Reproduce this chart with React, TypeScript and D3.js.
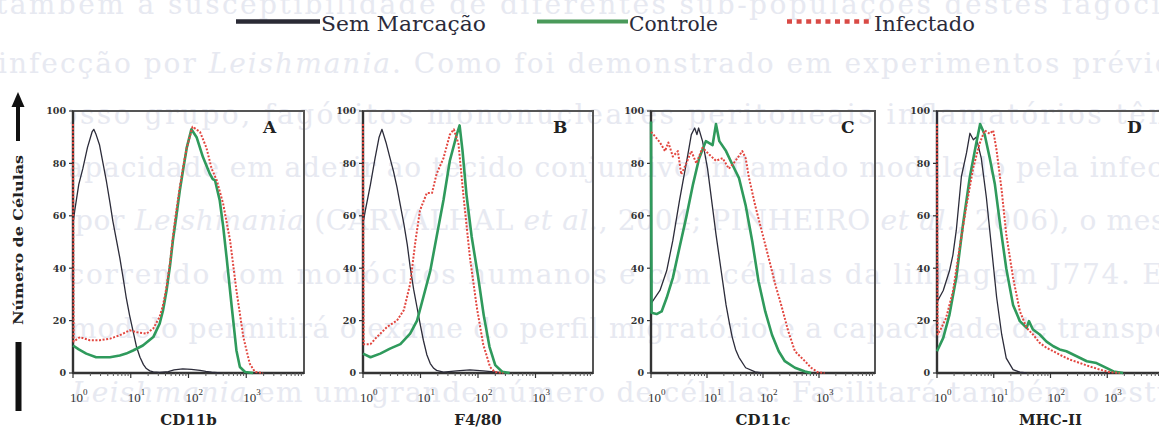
import React from "react";
import * as d3 from "d3";

// [log10 fluorescence intensity, number of cells]
type Pt = [number, number];

const markers = ["CD11b", "F4/80", "CD11c", "MHC-II"];
const panelLetters = ["A", "B", "C", "D"];
const seriesNames = ["Sem Marcação", "Controle", "Infectado"];
const yTicks = [0, 20, 40, 60, 80, 100];
const xDecades = [0, 1, 2, 3];

const semMarcacao: Pt[][] = [
  [[0,57],[0.03,62],[0.10,72],[0.17,78],[0.25,86],[0.33,92],[0.36,93],[0.40,91],[0.46,87],[0.52,80],[0.58,73],[0.64,65],[0.69,58],[0.75,51],[0.81,44],[0.87,36],[0.92,29],[0.98,22],[1.04,16],[1.10,10],[1.16,6],[1.22,3.2],[1.27,1.7],[1.33,0.8],[1.39,0.4],[1.50,0.2],[1.65,0.5],[1.75,1.2],[1.90,1.6],[2.05,1.4],[2.20,1.0],[2.30,0.6],[2.40,0.3],[2.55,0]],
  [[0,57],[0.04,62],[0.13,72],[0.21,82],[0.28,90],[0.33,93],[0.40,88],[0.47,82],[0.53,77],[0.59,71],[0.65,64],[0.71,57],[0.77,49],[0.82,40.5],[0.88,32],[0.94,25],[1.00,18],[1.05,12.5],[1.11,7],[1.17,3.6],[1.23,1.8],[1.28,1],[1.40,0.3],[1.63,0.8],[1.86,1.2],[2.09,0.8],[2.32,0.3],[2.44,0]],
  [[0,26.5],[0.16,31.5],[0.28,39],[0.39,50.6],[0.51,66],[0.57,73],[0.63,80],[0.68,86],[0.72,91],[0.78,93.5],[0.82,91],[0.85,93.5],[0.92,88.5],[1.01,78],[1.10,63],[1.16,53],[1.22,44],[1.28,35],[1.34,26],[1.40,19],[1.45,13.7],[1.51,9],[1.57,6],[1.69,2],[1.86,0.4],[1.98,0]],
  [[0,100],[0.01,27.5],[0.11,31.5],[0.22,39],[0.28,45],[0.34,54.5],[0.43,75],[0.52,84],[0.58,91.5],[0.64,89],[0.69,90],[0.78,82],[0.87,67],[0.96,48],[1.05,29],[1.14,14.7],[1.22,5.7],[1.34,1.3],[1.46,0.3],[1.58,0]],
];

const controle: Pt[][] = [
  [[0,10.5],[0.10,9],[0.23,7.4],[0.40,6],[0.64,6],[0.81,6.7],[0.92,7.4],[1.04,8.6],[1.21,10.5],[1.39,13.7],[1.50,18.8],[1.56,24],[1.62,31.5],[1.68,41],[1.73,50.6],[1.79,60],[1.85,69.7],[1.91,78],[1.97,86],[2.05,93],[2.14,90],[2.25,82.4],[2.37,76],[2.42,74],[2.46,73.5],[2.54,66],[2.60,56],[2.66,44],[2.75,25],[2.83,8.6],[2.89,2.3],[2.98,0.4],[3.12,0]],
  [[0,7.4],[0.13,6],[0.30,7.4],[0.47,9.3],[0.65,11],[0.82,15],[0.94,20],[1.05,29],[1.17,39],[1.28,52],[1.40,66],[1.51,81],[1.63,91],[1.68,94.5],[1.73,85],[1.80,68],[1.89,52],[2.00,37],[2.10,22],[2.20,10],[2.30,3],[2.42,0.5],[2.55,0]],
  [[0,96],[0.01,23],[0.10,22.5],[0.19,23.5],[0.28,28.7],[0.39,36.3],[0.51,48],[0.63,59.5],[0.75,72],[0.86,82],[0.98,88.5],[1.10,87],[1.16,95],[1.22,88.5],[1.34,84.7],[1.45,79.7],[1.57,74.5],[1.69,64],[1.81,50],[1.92,35],[2.04,23.5],[2.16,14.6],[2.28,8.3],[2.39,4.5],[2.57,2],[2.75,0.6],[2.86,0]],
  [[0,8.3],[0.11,13.4],[0.22,22.3],[0.34,36.4],[0.46,57],[0.58,75],[0.69,87.5],[0.76,95],[0.84,91],[0.93,82],[1.02,72],[1.11,57],[1.22,40],[1.34,26],[1.46,19.8],[1.58,17.2],[1.62,19.8],[1.69,16.6],[1.81,14.7],[1.93,12],[2.05,10.2],[2.16,9],[2.28,8.3],[2.46,6.4],[2.64,4.5],[2.81,3.8],[2.93,2.5],[3.11,0.6],[3.28,0]],
];

const infectado: Pt[][] = [
  [[0,95],[0.01,12],[0.12,13.7],[0.29,12.5],[0.46,12.5],[0.64,13.1],[0.81,14.4],[0.98,16.3],[1.10,15.6],[1.27,15],[1.39,17],[1.50,21.4],[1.56,26],[1.62,32.8],[1.68,42],[1.73,52],[1.79,62],[1.85,71],[1.91,79],[1.97,86],[2.07,94],[2.20,92],[2.31,86],[2.40,78],[2.49,73.5],[2.60,64.6],[2.72,50.6],[2.83,31.5],[2.95,13.7],[3.06,3.6],[3.15,0.4],[3.29,0]],
  [[0,95],[0.01,11],[0.13,11],[0.24,13.7],[0.42,17.6],[0.59,20],[0.71,24],[0.82,34],[0.91,50],[0.99,62],[1.11,68.7],[1.20,68.7],[1.28,76],[1.40,82],[1.51,91],[1.58,93],[1.66,87.5],[1.75,67],[1.86,44],[1.98,25],[2.09,11],[2.21,2.3],[2.29,0.4],[2.44,0]],
  [[0,92],[0.07,90.4],[0.16,88],[0.25,84.7],[0.31,88],[0.39,82.6],[0.48,84.7],[0.54,75.8],[0.63,80],[0.72,84.7],[0.81,80],[0.92,86],[1.04,83.4],[1.16,81],[1.28,82],[1.39,78],[1.51,81],[1.63,84.7],[1.69,82],[1.75,74.5],[1.86,64],[1.98,54],[2.10,44],[2.22,33.8],[2.34,24.8],[2.45,16],[2.57,8.3],[2.75,4.5],[2.86,2],[2.98,0.3],[3.10,0]],
  [[0,95],[0.01,14.7],[0.05,16],[0.16,21],[0.28,31],[0.40,48],[0.52,64],[0.64,78.5],[0.75,87.5],[0.84,92.6],[0.93,91.3],[0.99,92.6],[1.05,85],[1.14,69.6],[1.22,53],[1.34,36.4],[1.46,23.6],[1.58,17.2],[1.69,14.7],[1.81,11.5],[1.93,9.6],[2.05,8.3],[2.16,7],[2.34,5.1],[2.52,3.8],[2.69,2.5],[2.87,1.3],[3.05,0.3],[3.22,0]],
];

// Page text printed behind the figure: [text, italic] runs per line
const pageLines: [string, boolean][][] = [
  [["também a susceptibilidade de diferentes sub-populações destes fagócitos", false]],
  [["infecção por ", false], ["Leishmania", true], [". Como foi demonstrado em experimentos prévios", false]],
  [["nosso grupo, fagócitos mononucleares peritoneais inflamatórios têm", false]],
  [["capacidade em aderir ao tecido conjuntivo inflamado modulado pela infecção", false]],
  [["por ", false], ["Leishmania", true], [" (CARVALHAL ", false], ["et al.", true], [", 2004; PINHEIRO ", false], ["et al.", true], [", 2006), o mesmo", false]],
  [["ocorrendo com monócitos humanos e com células da linhagem J774. Este", false]],
  [["modelo permitirá o exame do perfil migratório e a capacidade de transporte", false]],
  [["Leishmania", true], [" em um grande número de células. Facilitará também o estudo", false]],
];

// layout
const W = 1159;
const H = 427;
const panelLeft = [73, 363, 651, 937];
const panelWidth = [231, 230, 224, 227];
const plotTop = 111;
const plotBottom = 373;
const serif = "'DejaVu Serif', serif";
const textSerif = "'Liberation Serif', serif";

// page text line placement: baseline, start and justified length
const pageLineY = [14, 73, 124, 177, 230, 284, 338, 402];
const pageLineX = [-4, -2, 40, 50, 75, 50, 70, 72];
const pageLineLen = [1214, 1190, 1135, 1165, 1135, 1160, 1145, 1140];

const colors = { sem: "#2c2c3a", ctrl: "#2f9a5c", inf: "#e2463f" };

const legend = [
  { name: seriesNames[0], x1: 236, x2: 320, len: 165, color: "#2a2a35", dash: "", width: 4.5 },
  { name: seriesNames[1], x1: 537, x2: 628, len: 89, color: "#4a9a5a", dash: "", width: 4 },
  { name: seriesNames[2], x1: 787, x2: 873, len: 101, color: "#d94a45", dash: "5,4.6", width: 4.5 },
];

function Panel({ i }: { i: number }) {
  const left = panelLeft[i];
  const right = left + panelWidth[i];
  const x = d3.scaleLog().domain([1, 1e4]).range([left, right]);
  const y = d3.scaleLinear().domain([0, 100]).range([plotBottom, plotTop]);
  const line = d3
    .line<Pt>()
    .x((p) => x(Math.pow(10, p[0])))
    .y((p) => y(p[1]));

  const minor: number[] = [];
  for (let d = 0; d < 4; d++) for (let k = 2; k <= 9; k++) minor.push(k * Math.pow(10, d));

  return (
    <g>
      {/* frame */}
      <rect x={left} y={plotTop} width={right - left} height={plotBottom - plotTop} fill="none" stroke="#555" strokeWidth={2} />
      <line x1={left} x2={left} y1={plotTop} y2={plotBottom} stroke="#333" strokeWidth={2.4} />
      <line x1={left} x2={right} y1={plotBottom} y2={plotBottom} stroke="#333" strokeWidth={2.4} />

      {/* y axis */}
      {yTicks.map((t) => (
        <g key={t}>
          <line x1={left - 4} x2={left} y1={y(t)} y2={y(t)} stroke="#333" strokeWidth={1.2} />
          <text x={left - 7} y={y(t)} dy="0.35em" textAnchor="end" fontFamily={serif} fontWeight="bold" fontSize={9.5} fill="#333">
            {t}
          </text>
        </g>
      ))}

      {/* x axis */}
      {minor.map((m) => (
        <line key={m} x1={x(m)} x2={x(m)} y1={plotBottom} y2={plotBottom + 3} stroke="#555" strokeWidth={1} />
      ))}
      {xDecades.map((d) => (
        <g key={d}>
          <line x1={x(Math.pow(10, d))} x2={x(Math.pow(10, d))} y1={plotBottom} y2={plotBottom + 5} stroke="#333" strokeWidth={1.2} />
          <text x={x(Math.pow(10, d)) - 3} y={402} fontFamily={textSerif} fontSize={13} fill="#333">
            10
            <tspan dy={-7} fontSize={9}>{d}</tspan>
          </text>
        </g>
      ))}

      {/* histograms */}
      <path d={line(semMarcacao[i]) || ""} fill="none" stroke={colors.sem} strokeWidth={1.3} strokeLinejoin="round" />
      <path d={line(controle[i]) || ""} fill="none" stroke={colors.ctrl} strokeWidth={2.6} strokeLinejoin="round" />
      <path d={line(infectado[i]) || ""} fill="none" stroke={colors.inf} strokeWidth={2} strokeDasharray="2,1.6" strokeLinejoin="round" />

      <text x={left + 190} y={133} fontFamily={serif} fontWeight="bold" fontSize={17} fill="#222">
        {panelLetters[i]}
      </text>
      <text x={(left + right) / 2} y={425} textAnchor="middle" fontFamily={serif} fontWeight="bold" fontSize={15} fill="#222">
        {markers[i]}
      </text>
    </g>
  );
}

export default function App() {
  return (
    <svg width={W} height={H} viewBox={`0 0 ${W} ${H}`} style={{ position: "absolute", left: 0, top: 0, background: "#fff" }}>
      <rect width={W} height={H} fill="#fff" />

      {/* page text behind the figure */}
      <g fontFamily={serif} fontSize={28} fill="#e7e9f1">
        {pageLines.map((runs, k) => (
          <text key={k} x={pageLineX[k]} y={pageLineY[k]} textLength={pageLineLen[k]} lengthAdjust="spacing">
            {runs.map(([t, it], j) => (
              <tspan key={j} fontStyle={it ? "italic" : "normal"}>
                {t}
              </tspan>
            ))}
          </text>
        ))}
      </g>
      {/* opaque strip behind the y axis title */}
      <rect x={0} y={88} width={70} height={H - 88} fill="#fff" />

      {/* legend */}
      {legend.map((l) => (
        <g key={l.name}>
          <line x1={l.x1} x2={l.x2} y1={21.5} y2={21.5} stroke={l.color} strokeWidth={l.width} strokeDasharray={l.dash || undefined} />
          <text x={l.x2 + 1} y={30.5} fontFamily={serif} fontSize={21} fill="#2b2b3a" textLength={l.len} lengthAdjust="spacingAndGlyphs">
            {l.name}
          </text>
        </g>
      ))}

      {/* y axis title with arrow */}
      <polygon points="18,92 11.5,107 24.5,107" fill="#111" />
      <rect x={16} y={105} width={4} height={36} fill="#111" />
      <rect x={15.5} y={342} width={6} height={69} fill="#111" />
      <text
        transform="translate(23,240) rotate(-90)"
        textAnchor="middle"
        fontFamily={serif}
        fontWeight="bold"
        fontSize={13.5}
        fill="#222"
        textLength={170}
        lengthAdjust="spacingAndGlyphs"
      >
        Número de Células
      </text>

      {[0, 1, 2, 3].map((i) => (
        <Panel key={i} i={i} />
      ))}
    </svg>
  );
}
